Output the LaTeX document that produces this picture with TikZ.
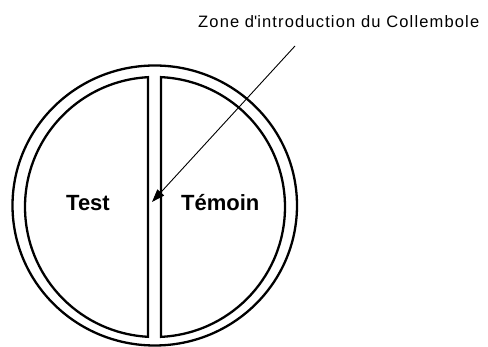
\documentclass[tikz,border=0pt]{standalone}
\usepackage{fontspec}
\setmainfont{Liberation Sans}
\usetikzlibrary{arrows.meta}
\tikzset{
  wall/.style={draw=black, line width=2.3pt},
  pointer/.style={draw=black, line width=0.9pt, -{Triangle[length=13pt,width=9pt]}},
  zonelabel/.style={anchor=base west, inner sep=0pt, font=\fontsize{16.5}{20}\selectfont\addfontfeatures{LetterSpace=7}},
  halflabel/.style={anchor=base west, inner sep=0pt, font=\fontsize{22}{26}\bfseries\selectfont}
}
\begin{document}
\begin{tikzpicture}[x=1pt,y=1pt]
\useasboundingbox (0,0) rectangle (488,347);
% outer ring
\draw[wall] (154.75,141.5) ellipse [x radius=142.25, y radius=140];
% left half (Test)
\coordinate (cin) at (155,140);
\draw[wall] (cin) ++(93.1:130) arc[start angle=93.1, end angle=266.9, radius=130] -- cycle;
% right half (Temoin)
\draw[wall] (cin) ++(87.35:130) arc[start angle=87.35, end angle=-87.35, radius=130] -- cycle;
% labels
\node[halflabel] (test) at (66,136) {Test};
\node[halflabel] (temoin) at (181,136) {Témoin};
\node[zonelabel] (zone) at (198,319) {Zone d\textquotesingle introduction du Collembole};
% arrow
\coordinate (start) at (295,301);
\coordinate (tip) at (152,145);
\draw[pointer] (start) -- (tip);
\end{tikzpicture}
\end{document}
